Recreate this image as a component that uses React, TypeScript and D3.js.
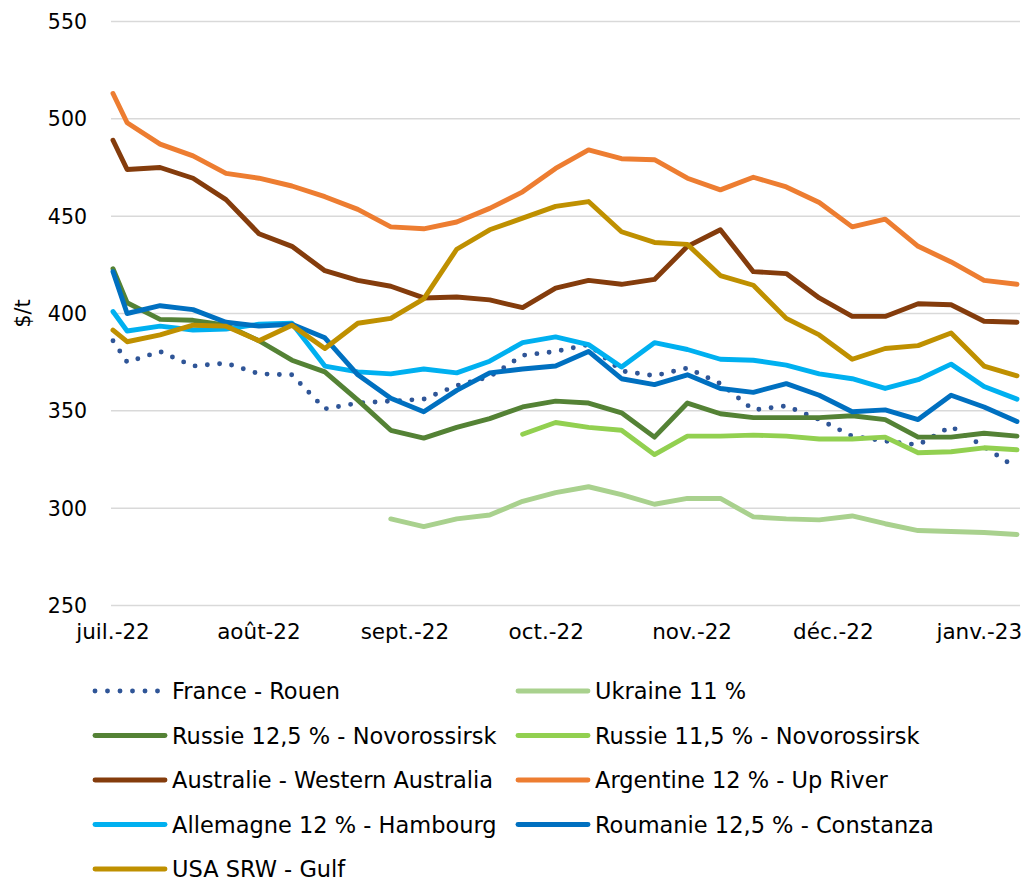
import * as d3 from 'd3';

// weekly wheat export prices ($/t), from 1 July 2022 to 9 January 2023
const dates: Date[] = [new Date(2022, 6, 1)].concat(
  d3.range(28).map((i) => d3.timeDay.offset(new Date(2022, 6, 4), i * 7))
);

const france = [386, 375, 380.5, 373, 374.5, 369, 368.5, 351, 354, 355, 356, 363, 367.5, 378.5, 380.5, 384, 370.5, 368, 372, 364, 350.5, 352.5, 345.5, 337, 334.5, 332.5, 342, 331.5, 320.5];
const ukraine = [null, null, null, null, null, null, null, null, null, 294.5, 290.5, 294.5, 296.5, 303.5, 308, 311, 307, 302, 305, 305, 295.5, 294.5, 294, 296, 292, 288.5, 288, 287.5, 286.5];
const russie125 = [423, 405.5, 397, 396.5, 394, 386, 376, 370, 355.5, 340, 336, 341.5, 346, 352, 355, 354, 349, 336.5, 354, 348.5, 346.5, 346.5, 346.5, 347.5, 345.5, 336.5, 336.5, 338.5, 337];
const russie115 = [null, null, null, null, null, null, null, null, null, null, null, null, null, 338, 344, 341.5, 340, 327.5, 337, 337, 337.5, 337, 335.5, 335.5, 336.5, 328.5, 329, 331, 330];
const australie = [489, 474, 475, 469.5, 458.5, 441, 434.5, 422, 417, 414, 408, 408.5, 407, 403, 413, 417, 415, 417.5, 434.5, 443, 421.5, 420.5, 408, 398.5, 398.5, 405, 404.5, 396, 395.5];
const argentine = [513, 498, 487, 481, 472, 469.5, 465.5, 460, 453.5, 444.5, 443.5, 447, 454, 462.5, 474.5, 484, 479.5, 479, 469.5, 463.5, 470, 465, 457, 444.5, 448.5, 434.5, 426.5, 417, 415];
const allemagne = [401, 391, 393.5, 391.5, 392, 394.5, 395, 373, 370, 369, 371.5, 369.5, 375.5, 385, 388, 384, 372.5, 385, 381.5, 376.5, 376, 373.5, 369, 366.5, 361.5, 366, 374, 362.5, 356];
const roumanie = [421.5, 400, 404, 402, 395.5, 393.5, 394.5, 387.5, 368.5, 356.5, 349.5, 360.5, 369.5, 371.5, 373, 380.5, 366.5, 363.5, 368.5, 361.5, 359.5, 364, 358, 349.5, 350.5, 345.5, 358, 352, 344.5];
const usa = [391.5, 385.5, 389, 394, 393.5, 386, 394, 382, 395, 397.5, 407.5, 433, 443, 449, 455, 457.5, 442, 436.5, 435.5, 419.5, 414.5, 397.5, 389, 376.5, 382, 383.5, 390, 373, 368];

const yTicks = [250, 300, 350, 400, 450, 500, 550];
const monthTicks = d3.timeMonth.range(new Date(2022, 6, 1), new Date(2023, 0, 2));
const frMonths = ['janv.', 'févr.', 'mars', 'avr.', 'mai', 'juin', 'juil.', 'août', 'sept.', 'oct.', 'nov.', 'déc.'];

type Series = { name: string; values: (number | null)[]; color: string; dotted?: boolean };

const series: Series[] = [
  { name: 'France - Rouen', values: france, color: '#2F5597', dotted: true },
  { name: 'Ukraine 11 %', values: ukraine, color: '#A9D18E' },
  { name: 'Russie 12,5 % - Novorossirsk', values: russie125, color: '#548235' },
  { name: 'Russie 11,5 % - Novorossirsk', values: russie115, color: '#92D050' },
  { name: 'Australie - Western Australia', values: australie, color: '#843C0C' },
  { name: 'Argentine 12 % - Up River', values: argentine, color: '#ED7D31' },
  { name: 'Allemagne 12 % - Hambourg', values: allemagne, color: '#00B0F0' },
  { name: 'Roumanie 12,5 % - Constanza', values: roumanie, color: '#0070C0' },
  { name: 'USA SRW - Gulf', values: usa, color: '#BF9000' },
];

const W = 1025;
const H = 883;
const font = '"DejaVu Sans", sans-serif';

export default function App() {
  const x = d3.scaleTime().domain([new Date(2022, 6, 1), new Date(2023, 0, 9)]).range([113, 1017]);
  const y = d3.scaleLinear().domain([250, 550]).range([605.5, 21.5]);

  const line = d3
    .line<number | null>()
    .defined((d) => d != null)
    .x((_, i) => x(dates[i]))
    .y((d) => y(d as number));

  return (
    <svg width={W} height={H} style={{ position: 'absolute', left: 0, top: 0, background: '#fff' }} fontFamily={font}>
      {/* grid */}
      {yTicks.map((t) => (
        <g key={t}>
          <line x1={111} x2={1020} y1={y(t)} y2={y(t)} stroke="#D9D9D9" strokeWidth={1.5} />
          <text x={87} y={y(t)} dy="0.36em" textAnchor="end" fontSize={20.5} fill="#000">
            {t}
          </text>
        </g>
      ))}
      {monthTicks.map((m) => (
        <text key={+m} x={x(m)} y={639} textAnchor="middle" fontSize={21.5} fill="#000">
          {frMonths[m.getMonth()] + '-' + String(m.getFullYear()).slice(2)}
        </text>
      ))}
      <text transform={`translate(30, ${y(400)}) rotate(-90)`} textAnchor="middle" fontSize={21} fill="#000">
        $/t
      </text>

      {/* lines */}
      {series.map((s) => (
        <path
          key={s.name}
          d={line(s.values) || ''}
          fill="none"
          stroke={s.color}
          strokeWidth={4.9}
          strokeLinejoin="round"
          strokeLinecap="round"
          strokeDasharray={s.dotted ? '0 12.3' : undefined}
        />
      ))}

      {/* legend */}
      {series.map((s, i) => {
        const col = i % 2;
        const row = Math.floor(i / 2);
        const lx = col === 0 ? 95 : 518;
        const ly = 691 + row * 44.5;
        return (
          <g key={s.name} transform={`translate(${lx}, ${ly})`}>
            <line
              x1={0}
              x2={70}
              y1={0}
              y2={0}
              stroke={s.color}
              strokeWidth={4.9}
              strokeLinecap="round"
              strokeDasharray={s.dotted ? '0 12.5' : undefined}
            />
            <text x={77} y={0} dy="0.36em" fontSize={22.5} fill="#000">
              {s.name}
            </text>
          </g>
        );
      })}
    </svg>
  );
}
